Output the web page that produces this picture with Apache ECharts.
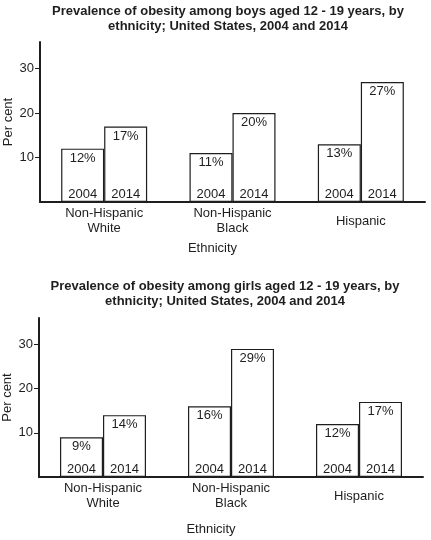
<!DOCTYPE html>
<html>
<head>
<meta charset="utf-8">
<script src="https://cdn.jsdelivr.net/npm/echarts@6/dist/echarts.min.js"></script>
<style>
html,body{margin:0;padding:0;background:#fff;}
#c{width:431px;height:540px;}
</style>
</head>
<body>
<div id="c"></div>
<script>
const categories = ['Non-Hispanic\nWhite', 'Non-Hispanic\nBlack', 'Hispanic'];
const years = ['2004', '2014'];
const boys2004 = [12, 11, 13];
const boys2014 = [17, 20, 27];
const girls2004 = [9, 16, 12];
const girls2014 = [14, 29, 17];
const yTicks = [10, 20, 30];
const titles = [
  'Prevalence of obesity among boys aged 12 - 19 years, by\nethnicity; United States, 2004 and 2014',
  'Prevalence of obesity among girls aged 12 - 19 years, by\nethnicity; United States, 2004 and 2014'
];
const yName = 'Per cent';
const xName = 'Ethnicity';

const FONT = 'Liberation Sans, Arial, sans-serif';
const INK = '#1e1e1e';

const chart = echarts.init(document.getElementById('c'));

function xAxisVisible(gridIndex, nameGap) {
  return {
    type: 'category', gridIndex: gridIndex, data: categories,
    axisLine: {lineStyle: {color: INK, width: 2}},
    axisTick: {show: false},
    axisLabel: {color: INK, fontSize: 13, fontFamily: FONT, lineHeight: 15,
      verticalAlign: 'middle', margin: 19, interval: 0},
    name: xName, nameLocation: 'middle', nameGap: nameGap,
    nameTextStyle: {color: INK, fontSize: 13, fontFamily: FONT, padding: [0, 40, 0, 0]}
  };
}
function xAxisHidden(gridIndex) {
  return {type: 'category', gridIndex: gridIndex, data: categories, show: false};
}
function yAxis(gridIndex) {
  return {
    type: 'value', gridIndex: gridIndex, min: 0, max: 36, interval: 10,
    splitLine: {show: false},
    axisLine: {show: true, lineStyle: {color: INK, width: 2}},
    axisTick: {show: true, length: 5, customValues: yTicks, lineStyle: {color: INK, width: 1}},
    axisLabel: {color: INK, fontSize: 13, fontFamily: FONT, margin: 6, customValues: yTicks},
    name: yName, nameLocation: 'middle', nameRotate: 90, nameGap: 25, nameMoveOverlap: false,
    nameTextStyle: {color: INK, fontSize: 13, fontFamily: FONT}
  };
}
function barSeries(name, data, xi, yi) {
  return {
    type: 'bar', name: name, data: data, xAxisIndex: xi, yAxisIndex: yi,
    barWidth: 43, barGap: '0%',
    itemStyle: {color: '#fff', borderColor: INK, borderWidth: 1.2},
    label: {show: true, position: 'insideTop', distance: 3, formatter: '{c}%',
      color: INK, fontSize: 13, fontFamily: FONT, lineHeight: 13},
    silent: true, animation: false
  };
}
function yearSeries(name, data, xi, yi) {
  return {
    type: 'bar', name: name, data: data, xAxisIndex: xi, yAxisIndex: yi,
    barWidth: 43, barGap: '0%',
    itemStyle: {color: 'rgba(0,0,0,0)', borderWidth: 0},
    label: {show: true, position: 'insideBottom', distance: 1, formatter: '{a}',
      color: INK, fontSize: 13, fontFamily: FONT, lineHeight: 13},
    silent: true, animation: false, z: 3
  };
}

chart.setOption({
  backgroundColor: '#fff',
  animation: false,
  title: [
    {text: titles[0], left: 228, top: 4, padding: 0, textAlign: 'center',
      textStyle: {fontSize: 13, fontWeight: 'bold', color: INK, fontFamily: FONT, lineHeight: 15}},
    {text: titles[1], left: 225, top: 279, padding: 0, textAlign: 'center',
      textStyle: {fontSize: 13, fontWeight: 'bold', color: INK, fontFamily: FONT, lineHeight: 15}}
  ],
  grid: [
    {left: 40, right: 6, top: 42, height: 160, outerBoundsMode: 'none', containLabel: false},
    {left: 39, right: 8, top: 318, height: 159, outerBoundsMode: 'none', containLabel: false}
  ],
  xAxis: [xAxisVisible(0, 40), xAxisHidden(0), xAxisVisible(1, 46), xAxisHidden(1)],
  yAxis: [yAxis(0), yAxis(1)],
  series: [
    barSeries(years[0], boys2004, 0, 0),
    barSeries(years[1], boys2014, 0, 0),
    yearSeries(years[0], boys2004, 1, 0),
    yearSeries(years[1], boys2014, 1, 0),
    barSeries(years[0], girls2004, 2, 1),
    barSeries(years[1], girls2014, 2, 1),
    yearSeries(years[0], girls2004, 3, 1),
    yearSeries(years[1], girls2014, 3, 1)
  ]
});
</script>
</body>
</html>
